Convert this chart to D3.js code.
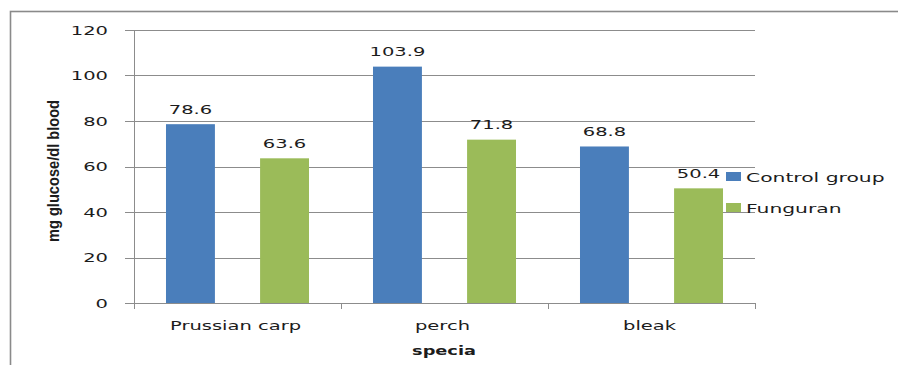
<!DOCTYPE html>
<html>
<head>
<meta charset="utf-8">
<script src="https://cdn.jsdelivr.net/npm/d3@7"></script>
<style>
  html, body { margin: 0; padding: 0; background: #fff; }
  svg { display: block; }
  text { font-family: "DejaVu Sans", Verdana, sans-serif; fill: #1c1c1c; }
</style>
</head>
<body>
<svg id="chart" width="898" height="365"></svg>
<script>
// Blood glucose by species, control vs. Funguran
const categories = ["Prussian carp", "perch", "bleak"];
const seriesNames = ["Control group", "Funguran"];
const controlValues = [78.6, 103.9, 68.8];
const funguranValues = [63.6, 71.8, 50.4];
const yTicks = [0, 20, 40, 60, 80, 100, 120];
const seriesColors = ["#4A7EBB", "#9BBB59"];

const svg = d3.select("#chart");
const SX = 1.5;          // horizontal text stretch
const FONT = 13;

const plotLeft = 134, plotRight = 755, plotTop = 30, plotBottom = 303;

// Outer frame
svg.append("rect")
  .attr("x", 10.5).attr("y", 11.5)
  .attr("width", 1000).attr("height", 1000)
  .attr("fill", "none").attr("stroke", "#8a8a8a").attr("stroke-width", 1.6);

const y = d3.scaleLinear().domain([0, 120]).range([plotBottom, plotTop]);
const x = d3.scaleBand().domain(categories).range([plotLeft, plotRight]).padding(0);
const xs = d3.scaleBand().domain(seriesNames).range([0, x.bandwidth()])
  .paddingInner(0.48).paddingOuter(0.34);

// Gridlines with outside tick marks
svg.append("g").selectAll("line").data(yTicks).join("line")
  .attr("x1", plotLeft - 9).attr("x2", plotRight)
  .attr("y1", d => Math.round(y(d)) + 0.5).attr("y2", d => Math.round(y(d)) + 0.5)
  .attr("stroke", "#8c8c8c").attr("stroke-width", 1);

// Y axis line
svg.append("line")
  .attr("x1", plotLeft + 0.5).attr("x2", plotLeft + 0.5)
  .attr("y1", plotTop).attr("y2", plotBottom + 6)
  .attr("stroke", "#8c8c8c");

// Category boundary ticks
const bounds = categories.map(c => x(c)).concat([plotRight]);
svg.append("g").selectAll("line").data(bounds).join("line")
  .attr("x1", d => Math.round(d) + 0.5).attr("x2", d => Math.round(d) + 0.5)
  .attr("y1", plotBottom).attr("y2", plotBottom + 6)
  .attr("stroke", "#8c8c8c");

// Y tick labels
svg.append("g").selectAll("text").data(yTicks).join("text")
  .attr("transform", d => `translate(108,${y(d) + 4.6}) scale(${SX},1)`)
  .attr("text-anchor", "end").attr("font-size", FONT)
  .text(d => d);

// Bars
const rows = categories.map((c, i) => ({
  cat: c,
  vals: [
    { s: seriesNames[0], v: controlValues[i] },
    { s: seriesNames[1], v: funguranValues[i] }
  ]
}));

const groups = svg.append("g").selectAll("g").data(rows).join("g")
  .attr("transform", d => `translate(${x(d.cat)},0)`);

groups.selectAll("rect").data(d => d.vals).join("rect")
  .attr("x", d => xs(d.s))
  .attr("width", xs.bandwidth())
  .attr("y", d => y(d.v))
  .attr("height", d => y(0) - y(d.v))
  .attr("fill", (d, i) => seriesColors[i]);

// Value labels
groups.selectAll("text").data(d => d.vals).join("text")
  .attr("transform", d => `translate(${xs(d.s) + xs.bandwidth() / 2},${y(d.v) - 10.5}) scale(${SX},1)`)
  .attr("text-anchor", "middle").attr("font-size", FONT)
  .text(d => d.v.toFixed(1));

// Category labels
svg.append("g").selectAll("text").data(categories).join("text")
  .attr("transform", d => `translate(${x(d) + x.bandwidth() / 2 - 2},330) scale(${SX},1)`)
  .attr("text-anchor", "middle").attr("font-size", FONT)
  .text(d => d);

// Axis titles
svg.append("text")
  .attr("transform", `translate(444,355) scale(1.42,1)`)
  .attr("text-anchor", "middle").attr("font-size", 12.5)
  .attr("font-weight", "bold")
  .text("specia");

svg.append("text")
  .attr("transform", `translate(59,171) rotate(-90) scale(1.17,1.35)`)
  .attr("text-anchor", "middle").attr("font-size", 12.5)
  .style("font-family", "'Liberation Sans', Arial, sans-serif")
  .attr("font-weight", "bold")
  .text("mg glucose/dl blood");

// Legend
const legend = svg.append("g").selectAll("g").data(seriesNames).join("g")
  .attr("transform", (d, i) => `translate(726,${172 + i * 31})`);
legend.append("rect")
  .attr("width", 15).attr("height", 9)
  .attr("fill", (d, i) => seriesColors[i]);
legend.append("text")
  .attr("transform", `translate(20,10) scale(1.56,1)`)
  .attr("font-size", FONT)
  .text(d => d);
</script>
</body>
</html>
